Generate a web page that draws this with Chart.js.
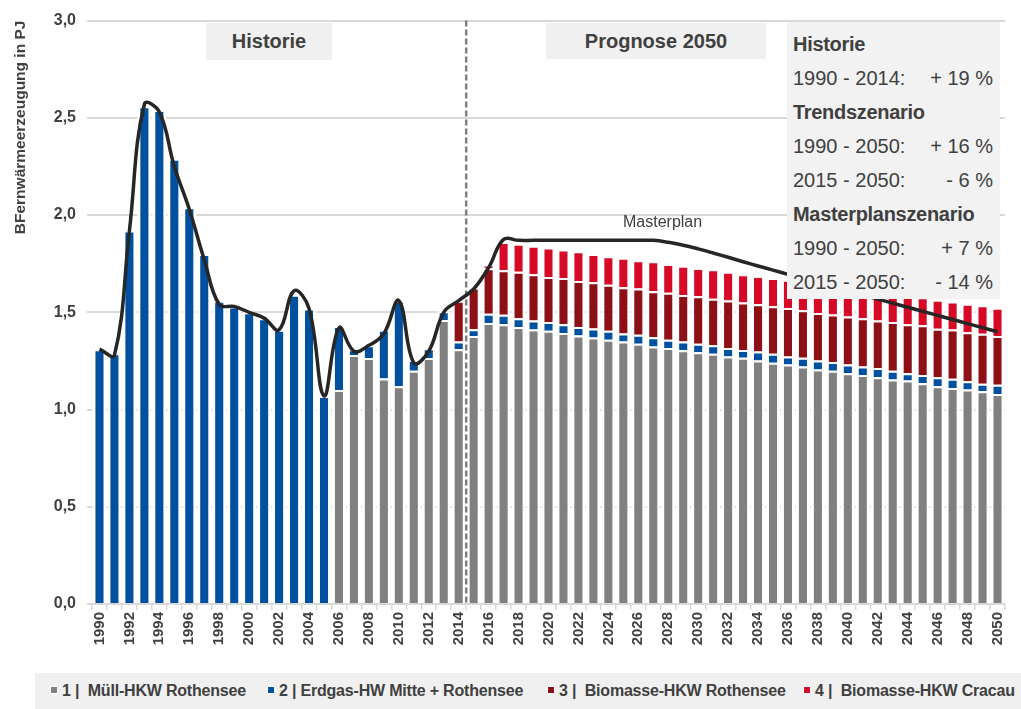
<!DOCTYPE html>
<html lang="de">
<head>
<meta charset="utf-8">
<title>Fernwärmeerzeugung Magdeburg</title>
<script src="https://cdn.jsdelivr.net/npm/chart.js@4.4.1/dist/chart.umd.min.js"></script>
<style>
  html, body { margin: 0; padding: 0; background: #fff; }
  body { font-family: "Liberation Sans", Arial, sans-serif; color: #404040; }
  #wrap { position: relative; width: 1021px; height: 709px; overflow: hidden; }
  #chart { position: absolute; left: 0; top: 0; }
  .tag {
    position: absolute; background: #f0f0f0; font-weight: bold; font-size: 20px;
    display: flex; align-items: center; justify-content: center;
  }
  #info {
    position: absolute; left: 787px; top: 22px; width: 213px; height: 277px;
    background: #f2f2f2; box-sizing: border-box; padding: 5px 7px 0 6px;
  }
  #info .row { height: 34px; line-height: 34px; font-size: 20px; display: flex; justify-content: space-between; white-space: pre; }
  #info .head { font-weight: bold; letter-spacing: -0.3px; }
  #mpLabel { position: absolute; left: 623px; top: 213px; font-size: 16px; color: #404040; }
  #legend {
    position: absolute; left: 35px; top: 673px; width: 986px; height: 36px;
    background: #f0f0f0; font-size: 16px; font-weight: bold; letter-spacing: -0.2px;
  }
  .item { position: absolute; top: 0; height: 36px; line-height: 36px; white-space: pre; }
  .sw { display: inline-block; width: 6px; height: 6px; border: 1px solid #fff; margin-right: 4px; vertical-align: 2px; }
</style>
</head>
<body>
<div id="wrap">
  <canvas id="chart" width="1021" height="709"></canvas>
  <div class="tag" style="left:206px;top:23px;width:126px;height:37px;">Historie</div>
  <div class="tag" style="left:546px;top:23px;width:220px;height:36px;">Prognose 2050</div>
  <div id="mpLabel">Masterplan</div>
  <div id="info">
    <div class="row head">Historie</div>
    <div class="row"><span>1990 - 2014:</span><span>+ 19 %</span></div>
    <div class="row head">Trendszenario</div>
    <div class="row"><span>1990 - 2050:</span><span>+ 16 %</span></div>
    <div class="row"><span>2015 - 2050:</span><span>- 6 %</span></div>
    <div class="row head">Masterplanszenario</div>
    <div class="row"><span>1990 - 2050:</span><span>+ 7 %</span></div>
    <div class="row"><span>2015 - 2050:</span><span>- 14 %</span></div>
  </div>
  <div id="legend"></div>
</div>
<script>
// Jahre 1990 - 2050
const years = Array.from({ length: 61 }, (_, i) => String(1990 + i));

// Werte in PJ
const muellHkw = [
  null, null, null, null, null, null, null, null, null, null,
  null, null, null, null, null, null,
  1.10, 1.28, 1.265, 1.16, 1.12, 1.20, 1.265, 1.46, 1.31, 1.378,
  1.445, 1.438, 1.424, 1.412, 1.405, 1.393, 1.381, 1.371, 1.359, 1.35,
  1.338, 1.324, 1.317, 1.305, 1.294, 1.287, 1.273, 1.266, 1.252, 1.24,
  1.232, 1.221, 1.206, 1.199, 1.187, 1.178, 1.166, 1.154, 1.149, 1.135,
  1.12, 1.111, 1.103, 1.094, 1.08
];
const erdgasHw = [
  1.31, 1.29, 1.92, 2.56, 2.54, 2.29, 2.04, 1.80, 1.56, 1.53,
  1.50, 1.47, 1.41, 1.59, 1.52, 1.07,
  0.33, 0.03, 0.065, 0.25, 0.44, 0.055, 0.05, 0.046, 0.04, 0.035,
  0.047, 0.05, 0.046, 0.046, 0.045, 0.045, 0.043, 0.046, 0.046, 0.041,
  0.047, 0.048, 0.042, 0.045, 0.044, 0.043, 0.044, 0.04, 0.046, 0.047,
  0.041, 0.045, 0.046, 0.045, 0.045, 0.043, 0.047, 0.046, 0.038, 0.043,
  0.046, 0.047, 0.043, 0.038, 0.047
];
const biomasseRothensee = [
  null, null, null, null, null, null, null, null, null, null,
  null, null, null, null, null, null, null, null, null, null,
  null, null, null, null,
  0.21, 0.215, 0.235, 0.228, 0.238, 0.238, 0.232, 0.239, 0.237, 0.237,
  0.237, 0.238, 0.237, 0.236, 0.242, 0.239, 0.244, 0.24, 0.244, 0.245,
  0.243, 0.244, 0.249, 0.244, 0.244, 0.245, 0.247, 0.249, 0.245, 0.25,
  0.251, 0.255, 0.249, 0.254, 0.252, 0.258, 0.251
];
const biomasseCracau = [
  null, null, null, null, null, null, null, null, null, null,
  null, null, null, null, null, null, null, null, null, null,
  null, null, null, null, null, null,
  0.017, 0.146, 0.145, 0.146, 0.151, 0.146, 0.153, 0.146, 0.146, 0.151,
  0.146, 0.155, 0.148, 0.15, 0.146, 0.151, 0.147, 0.145, 0.146, 0.146,
  0.146, 0.148, 0.149, 0.148, 0.147, 0.147, 0.148, 0.147, 0.147, 0.145,
  0.15, 0.144, 0.146, 0.146, 0.146
];
const masterplan = [
  1.31, 1.28, 1.92, 2.57, 2.53, 2.25, 2.03, 1.77, 1.54, 1.53,
  1.50, 1.47, 1.41, 1.61, 1.52, 1.07, 1.42, 1.30, 1.33, 1.39,
  1.56, 1.24, 1.30, 1.50, 1.56, 1.62, 1.73, 1.875, 1.87, 1.87,
  1.87, 1.87, 1.87, 1.87, 1.87, 1.87, 1.87, 1.87, 1.86, 1.845,
  1.826, 1.805, 1.783, 1.76, 1.738, 1.717, 1.695, 1.674, 1.652, 1.631,
  1.61, 1.589, 1.568, 1.547, 1.526, 1.505, 1.484, 1.463, 1.442, 1.421,
  1.40
];
const seriesNames = [
  '1 |  Müll-HKW Rothensee',
  '2 | Erdgas-HW Mitte + Rothensee',
  '3 |  Biomasse-HKW Rothensee',
  '4 |  Biomasse-HKW Cracau'
];
const seriesColors = ['#808080', '#0050a0', '#8c1016', '#d60a27'];
const legendX = [50, 267, 547, 803];

const FONT = '"Liberation Sans", Arial, sans-serif';
const TXT = '#404040';

function barSet(label, data, color) {
  return {
    type: 'bar', label, data, backgroundColor: color,
    borderColor: '#ffffff', borderWidth: { top: 2, left: 3, right: 3, bottom: 0 },
    borderSkipped: false, stack: 'quellen', order: 1,
    barPercentage: 0.94, categoryPercentage: 1
  };
}

// gestrichelte Trennlinie zwischen 2014 und 2015, unter der Masterplan-Linie
const trennLinie = {
  id: 'trennLinie',
  beforeDatasetDraw(chart, args) {
    if (args.meta.type !== 'line') return;
    const x = chart.scales.x;
    const a = chart.chartArea;
    const px = (x.getPixelForValue(24) + x.getPixelForValue(25)) / 2;
    const ctx = chart.ctx;
    ctx.save();
    ctx.strokeStyle = '#7f7f7f';
    ctx.lineWidth = 2.5;
    ctx.setLineDash([6, 3]);
    ctx.beginPath();
    ctx.moveTo(px, a.top);
    ctx.lineTo(px, a.bottom);
    ctx.stroke();
    ctx.restore();
  }
};

new Chart(document.getElementById('chart'), {
  data: {
    labels: years,
    datasets: [
      barSet(seriesNames[0], muellHkw, seriesColors[0]),
      barSet(seriesNames[1], erdgasHw, seriesColors[1]),
      barSet(seriesNames[2], biomasseRothensee, seriesColors[2]),
      barSet(seriesNames[3], biomasseCracau, seriesColors[3]),
      {
        type: 'line', label: 'Masterplan', data: masterplan, stack: 'mp', order: 0,
        borderColor: '#262626', borderWidth: 3.5, pointRadius: 0, tension: 0.4, fill: false
      }
    ]
  },
  plugins: [trennLinie],
  options: {
    responsive: false,
    animation: false,
    layout: { padding: { top: 20, right: 16, left: 10, bottom: 0 } },
    plugins: { legend: { display: false }, tooltip: { enabled: false } },
    scales: {
      x: {
        stacked: true,
        afterFit: s => { s.height = 105; },
        grid: { drawOnChartArea: false, drawTicks: true, tickLength: 6, color: '#d9d9d9', lineWidth: 1.5 },
        border: { display: true, color: '#d9d9d9', width: 2 },
        ticks: {
          autoSkip: false, minRotation: 90, maxRotation: 90, padding: 2,
          color: TXT, font: { family: FONT, size: 15, weight: 'bold' },
          callback: (v, i) => (i % 2 === 0 ? years[i] : '')
        }
      },
      y: {
        stacked: true, min: 0, max: 3,
        afterFit: s => { s.width = 82; },
        grid: { color: '#d9d9d9', lineWidth: 2, tickLength: 5 },
        border: { display: false },
        ticks: {
          stepSize: 0.5, padding: 11, color: TXT,
          font: { family: FONT, size: 16, weight: 'bold' },
          callback: v => v.toFixed(1).replace('.', ',')
        },
        title: {
          display: true, text: 'BFernwärmeerzeugung in PJ', align: 'end',
          color: TXT, font: { family: FONT, size: 15.5, weight: 'bold' },
          padding: { top: 1, bottom: 0 }
        }
      }
    }
  }
});

// Legende unten
const legend = document.getElementById('legend');
seriesNames.forEach((name, i) => {
  const item = document.createElement('div');
  item.className = 'item';
  item.style.left = (legendX[i] - 35) + 'px';
  item.innerHTML = '<span class="sw" style="background:' + seriesColors[i] + '"></span>';
  item.appendChild(document.createTextNode(name));
  legend.appendChild(item);
});
</script>
</body>
</html>
